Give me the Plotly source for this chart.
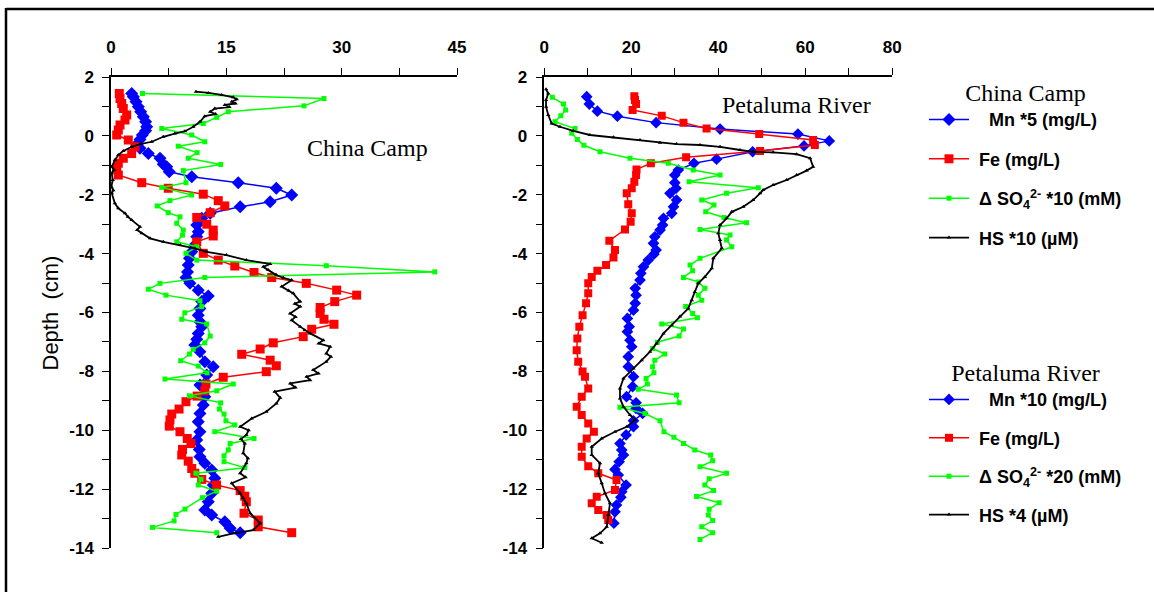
import plotly.graph_objects as go

# ---------------- China Camp ----------------
cc_mn_x = [2.69, 2.9, 3.25, 3.55, 3.86, 4.2, 4.5, 4.64, 4.5, 4.07, 3.77, 3.42, 3.77, 4.85, 6.37, 6.8, 7.24, 7.58,
           10.5, 16.55, 21.5, 23.5, 20.7, 16.8, 12.9, 11.8, 11.15, 11.35, 11.15, 10.9, 10.5, 10.2, 10.05, 9.95,
           9.75, 10.27, 11.35, 12.65, 11.8, 11.57, 11.35, 11.57, 11.8, 11.35, 11.15, 10.9, 11.57, 12.2, 13.3,
           12.45, 11.57, 12.2, 12.0, 11.57, 11.35, 11.57, 11.15, 11.48, 11.57, 12.2, 13.1, 13.5, 13.3, 13.1,
           12.65, 12.2, 13.1, 14.8, 15.5, 16.8]
cc_mn_d = [1.44, 1.33, 1.16, 0.99, 0.82, 0.65, 0.48, 0.31, 0.17, 0.03, -0.12, -0.28, -0.42, -0.6, -0.76, -0.96,
           -1.05, -1.22, -1.39, -1.59, -1.78, -2.01, -2.24, -2.41, -2.63, -2.8, -3.03, -3.26, -3.43, -3.71, -3.94,
           -4.16, -4.39, -4.62, -4.81, -5.01, -5.24, -5.44, -5.63, -5.86, -6.09, -6.31, -6.48, -6.71, -6.91, -7.1,
           -7.33, -7.67, -7.84, -8.12, -8.46, -8.86, -9.14, -9.43, -9.71, -10.05, -10.33, -10.65, -10.9, -11.12,
           -11.35, -11.63, -11.86, -12.14, -12.43, -12.71, -12.88, -13.11, -13.33, -13.48]

cc_fe_x = [1.08, 1.17, 1.39, 1.6, 2.04, 1.82, 1.17, 0.95, 0.74, 2.25, 3.12, 2.69, 1.6, 0.95, 0.74, 0.95, 4.0,
           7.45, 12.0, 13.95, 14.8, 12.9, 11.15, 12.45, 13.3, 13.3, 11.15, 12.0, 13.95, 16.1, 18.6, 20.9, 25.4,
           29.35, 31.95, 29.1, 27.2, 27.2, 27.7, 29.0, 26.1, 25.0, 21.1, 19.4, 17.0, 20.7, 21.5, 20.2, 14.6,
           12.35, 12.2, 11.2, 9.75, 8.85, 7.9, 7.67, 7.58, 8.97, 9.92, 10.4, 9.3, 9.2, 10.05, 10.5, 10.9, 11.8,
           13.73, 16.8, 17.4, 17.6, 17.3, 19.15, 19.15, 23.5]
cc_fe_d = [1.44, 1.27, 1.1, 0.93, 0.71, 0.54, 0.37, 0.2, 0.03, -0.14, -0.37, -0.6, -0.76, -0.93, -1.1, -1.33,
           -1.59, -1.78, -1.98, -2.2, -2.38, -2.61, -2.77, -3.0, -3.2, -3.4, -3.6, -3.99, -4.22, -4.42, -4.64,
           -4.81, -5.01, -5.24, -5.41, -5.63, -5.83, -6.03, -6.23, -6.4, -6.57, -6.82, -7.03, -7.24, -7.42, -7.62,
           -7.81, -8.01, -8.2, -8.43, -8.66, -8.84, -9.03, -9.28, -9.45, -9.65, -9.86, -10.05, -10.28, -10.45,
           -10.65, -10.84, -11.05, -11.3, -11.46, -11.67, -11.86, -12.05, -12.24, -12.43, -12.82, -13.05,
           -13.28, -13.48]

cc_so4_x = [4.1, 27.7, 25.1, 15.25, 13.75, 12.0, 6.6, 10.5, 12.2, 8.75, 11.2, 10.05, 14.26, 9.4, 9.75, 6.6,
            10.5, 7.67, 6.0, 7.45, 8.97, 8.55, 9.4, 9.3, 8.55, 11.15, 9.75, 11.15, 28.0, 42.1, 12.2, 6.37, 4.85,
            7.15, 11.57, 11.8, 9.6, 9.2, 12.45, 12.9, 12.2, 10.7, 10.2, 9.06, 11.35, 12.5, 7.02, 15.9, 13.75,
            10.2, 14.26, 14.1, 14.7, 14.95, 16.1, 13.5, 18.6, 15.5, 15.25, 14.7, 14.7, 17.4, 11.05, 11.7, 11.35,
            13.75, 11.9, 9.62, 8.45, 8.2, 5.4, 13.75]
cc_so4_d = [1.44, 1.27, 1.02, 0.82, 0.63, 0.42, 0.25, 0.03, -0.2, -0.35, -0.57, -0.76, -0.97, -1.18, -1.59,
            -1.75, -2.01, -2.2, -2.38, -2.61, -2.75, -2.97, -3.2, -3.37, -3.6, -3.77, -3.99, -4.22, -4.41, -4.62,
            -4.81, -5.01, -5.21, -5.41, -5.6, -5.8, -6.01, -6.23, -6.39, -6.8, -7.03, -7.25, -7.41, -7.64, -7.82,
            -8.05, -8.26, -8.43, -8.66, -8.83, -9.07, -9.28, -9.45, -9.68, -9.82, -10.05, -10.28, -10.45, -10.67,
            -10.87, -11.07, -11.27, -11.46, -11.67, -11.86, -12.07, -12.29, -12.68, -12.86, -13.08, -13.3, -13.48]

cc_hs_x = [11.05, 12.65, 14.4, 15.9, 16.35, 15.7, 16.2, 14.8, 15.4, 13.5, 12.9, 13.6, 12.2, 11.57, 10.7, 9.62,
           8.3, 6.8, 5.3, 3.77, 2.69, 1.6, 0.95, 0.52, 0.09, 0.4, 0.1, 0.22, 0.05, 0.3, 0.1, 0.5, 0.95, 1.82,
           2.2, 2.69, 3.77, 3.4, 3.99, 5.07, 6.8, 9.0, 10.9, 12.45, 15.0, 17.6, 20.7, 19.8, 20.45, 21.5, 22.4,
           23.5, 22.2, 23.1, 23.7, 24.6, 23.9, 24.6, 23.3, 24.0, 23.5, 24.6, 25.2, 25.9, 27.6, 27.0, 28.5, 28.0,
           28.6, 28.0, 26.3, 27.0, 25.45, 25.9, 23.3, 24.0, 21.3, 22.0, 21.5, 20.2, 18.3, 16.8, 17.9, 17.6, 16.9,
           17.4, 17.2, 17.8, 17.6, 16.8, 17.5, 15.7, 16.8, 17.2, 17.6, 18.1, 19.4, 18.5, 15.9, 13.95]
cc_hs_d = [1.5, 1.46, 1.39, 1.31, 1.24, 1.16, 1.1, 1.05, 0.98, 0.93, 0.82, 0.74, 0.67, 0.48, 0.31, 0.16, 0.08,
           -0.03, -0.2, -0.28, -0.37, -0.51, -0.65, -0.82, -1.05, -1.16, -1.27, -1.5, -1.73, -1.85, -1.95, -2.29,
           -2.46, -2.63, -2.75, -2.86, -3.09, -3.2, -3.31, -3.48, -3.6, -3.71, -3.82, -3.94, -4.05, -4.22, -4.35,
           -4.45, -4.56, -4.73, -4.82, -4.9, -5.12, -5.25, -5.35, -5.63, -5.7, -5.8, -6.03, -6.15, -6.26, -6.48,
           -6.6, -6.71, -6.94, -7.05, -7.16, -7.39, -7.5, -7.67, -7.95, -8.07, -8.18, -8.3, -8.41, -8.55, -8.69,
           -8.9, -9.09, -9.37, -9.6, -9.88, -10.0, -10.16, -10.3, -10.45, -10.78, -10.95, -11.12, -11.46, -11.6,
           -11.8, -12.14, -12.3, -12.48, -12.82, -13.16, -13.39, -13.5, -13.62]

# ---------------- Petaluma River ----------------
pr_mn_x = [9.75, 10.35, 12.2, 16.8, 25.7, 40.4, 58.3, 65.5, 59.7, 47.9, 39.6, 34.4, 30.8, 30.0, 30.0, 30.3, 28.9,
           30.4, 29.7, 29.3, 27.4, 27.2, 26.6, 25.4, 25.1, 25.7, 25.2, 23.9, 22.8, 22.2, 22.0, 20.9, 21.1, 20.9,
           20.5, 19.1, 19.5, 19.1, 19.7, 20.1, 19.3, 19.3, 20.5, 20.3, 18.9, 21.1, 21.1, 22.6, 20.5, 20.5, 18.8,
           17.4, 17.8, 18.2, 17.2, 16.25, 17.0, 18.8, 17.8, 17.6, 16.6, 16.25, 16.0]
pr_mn_d = [1.33, 1.08, 0.84, 0.67, 0.45, 0.23, 0.06, -0.17, -0.34, -0.54, -0.79, -0.93, -1.16, -1.33, -1.59,
           -1.78, -1.95, -2.18, -2.41, -2.63, -2.8, -3.03, -3.2, -3.43, -3.65, -3.88, -4.02, -4.22, -4.45, -4.67,
           -4.9, -5.18, -5.41, -5.69, -5.92, -6.2, -6.48, -6.65, -6.94, -7.16, -7.5, -7.84, -8.18, -8.52, -8.86,
           -9.07, -9.26, -9.43, -9.68, -9.88, -10.16, -10.45, -10.67, -10.84, -11.07, -11.33, -11.52, -11.86,
           -12.09, -12.28, -12.54, -12.77, -13.16]

pr_fe_x = [20.7, 20.85, 21.1, 20.3, 27.0, 32.0, 37.3, 49.4, 61.8, 62.2, 49.6, 32.6, 24.5, 21.2, 21.1, 20.7, 20.1,
           18.95, 19.3, 20.1, 19.85, 18.55, 14.95, 16.25, 15.9, 14.2, 12.2, 10.9, 10.1, 10.1, 9.6, 8.8, 8.05, 7.6,
           7.45, 7.8, 8.8, 9.35, 10.1, 8.6, 7.45, 8.6, 10.1, 11.4, 9.75, 8.6, 8.6, 10.1, 12.4, 16.6, 16.25, 12.05,
           10.9, 12.4, 14.35, 14.7]
pr_fe_d = [1.35, 1.22, 1.08, 0.88, 0.68, 0.45, 0.25, 0.06, -0.14, -0.31, -0.51, -0.73, -0.93, -1.14, -1.33, -1.56,
           -1.78, -1.95, -2.32, -2.63, -2.92, -3.18, -3.56, -3.88, -4.13, -4.39, -4.58, -4.79, -5.01, -5.35, -5.69,
           -6.09, -6.48, -6.88, -7.28, -7.67, -8.0, -8.18, -8.58, -8.86, -9.2, -9.48, -9.77, -10.05, -10.28,
           -10.56, -10.9, -11.22, -11.46, -11.69, -12.03, -12.26, -12.48, -12.71, -12.88, -13.05]

pr_so4_x = [1.85, 4.4, 4.9, 3.8, 2.46, 7.05, 6.3, 7.6, 9.1, 12.8, 19.7, 28.5, 34.25, 40.4, 33.3, 49.2, 41.9, 36.2,
            39.0, 37.1, 41.3, 46.5, 35.8, 42.7, 41.9, 43.1, 35.8, 33.5, 34.1, 32.0, 35.4, 36.9, 35.4, 36.2, 32.5,
            34.1, 35.2, 27.0, 32.0, 31.0, 26.0, 24.9, 27.7, 25.4, 24.9, 25.2, 23.4, 23.7, 21.6, 30.4, 31.0, 17.4,
            23.15, 26.6, 27.5, 29.8, 32.0, 34.6, 38.25, 38.7, 35.8, 41.9, 37.9, 36.9, 38.9, 35.0, 40.2, 37.9, 37.7,
            38.7, 36.2, 38.7, 35.8]
pr_so4_d = [1.31, 1.08, 0.88, 0.68, 0.48, 0.25, 0.09, -0.12, -0.32, -0.54, -0.76, -0.93, -1.16, -1.33, -1.56,
            -1.76, -1.95, -2.18, -2.35, -2.58, -2.77, -2.95, -3.18, -3.37, -3.54, -3.77, -4.16, -4.39, -4.58,
            -4.81, -4.96, -5.18, -5.41, -5.58, -5.8, -6.03, -6.18, -6.39, -6.56, -6.8, -7.01, -7.22, -7.41, -7.62,
            -7.84, -8.05, -8.24, -8.43, -8.61, -8.8, -9.07, -9.22, -9.43, -9.68, -10.05, -10.24, -10.45, -10.67,
            -10.84, -11.04, -11.24, -11.46, -11.65, -11.86, -12.05, -12.25, -12.46, -12.68, -12.88, -13.07,
            -13.28, -13.48, -13.71]

pr_hs_x = [0.4, 0.9, 0.4, 0.4, 0.9, 1.7, 3.6, 6.67, 10.5, 15.9, 22.0, 26.6, 30.4, 35.8, 40.4, 45.0, 48.0, 52.6,
           58.0, 61.1, 61.8, 60.3, 58.0, 55.7, 52.6, 50.3, 49.6, 48.0, 45.75, 43.1, 41.9, 40.4, 40.0, 40.4, 40.8,
           38.85, 38.5, 36.9, 35.4, 34.6, 33.9, 33.1, 31.2, 29.3, 27.4, 25.8, 24.3, 22.4, 20.5, 18.2, 17.4, 17.4,
           18.2, 19.7, 20.85, 18.95, 16.25, 13.2, 10.9, 10.9, 12.8, 12.4, 13.2, 13.95, 15.1, 14.7, 14.35, 12.8,
           10.9, 13.2]
pr_hs_d = [1.58, 1.44, 1.22, 0.99, 0.71, 0.42, 0.31, 0.17, 0.03, -0.05, -0.14, -0.23, -0.28, -0.31, -0.37, -0.48,
           -0.54, -0.56, -0.62, -0.76, -1.05, -1.18, -1.33, -1.5, -1.67, -1.84, -1.95, -2.18, -2.41, -2.58, -2.8,
           -3.03, -3.31, -3.54, -3.82, -4.16, -4.5, -4.79, -5.01, -5.3, -5.58, -5.86, -6.14, -6.43, -6.71, -7.05,
           -7.33, -7.62, -7.9, -8.24, -8.58, -8.92, -9.2, -9.48, -9.65, -9.88, -10.05, -10.28, -10.56, -10.84,
           -11.12, -11.46, -11.8, -12.14, -12.48, -12.88, -13.28, -13.5, -13.67, -13.82]

# ---------------- tick labels ----------------
cc_xticks = [0, 15, 30, 45]
pr_xticks = [0, 20, 40, 60, 80]
y_ticks = [2, 0, -2, -4, -6, -8, -10, -12, -14]

BLUE, RED, GREEN, BLACK = "#0000FF", "#FF0000", "#00FF00", "#000000"
SANS = "Liberation Sans, Arial, sans-serif"
SERIF = "Liberation Serif, Times New Roman, serif"

fig = go.Figure()

def add(xs, ys, color, symbol, size, name, xa, ya, leg, group, lw=1.5):
    fig.add_trace(go.Scatter(
        x=xs, y=ys, xaxis=xa, yaxis=ya, mode="lines+markers", name=name,
        line=dict(color=color, width=lw), marker=dict(color=color, symbol=symbol, size=size),
        legend=leg, legendgroup=group))

add(cc_mn_x, cc_mn_d, BLUE, "diamond", 10, "&nbsp;&nbsp;&nbsp;Mn *5 (mg/L)", "x", "y", "legend", "c1")
add(cc_fe_x, cc_fe_d, RED, "square", 9, "&nbsp;Fe (mg/L)", "x", "y", "legend", "c2")
add(cc_so4_x, cc_so4_d, GREEN, "square", 5, "&nbsp;Δ SO<sub>4</sub><sup>2-</sup> *10 (mM)", "x", "y", "legend", "c3")
add(cc_hs_x, cc_hs_d, BLACK, "triangle-up", 4, "&nbsp;HS *10 (µM)", "x", "y", "legend", "c4", lw=1.8)

add(pr_mn_x, pr_mn_d, BLUE, "diamond", 9, "&nbsp;&nbsp;&nbsp;Mn *10 (mg/L)", "x2", "y2", "legend2", "p1")
add(pr_fe_x, pr_fe_d, RED, "square", 8, "&nbsp;Fe (mg/L)", "x2", "y2", "legend2", "p2")
add(pr_so4_x, pr_so4_d, GREEN, "square", 5, "&nbsp;Δ SO<sub>4</sub><sup>2-</sup> *20 (mM)", "x2", "y2", "legend2", "p3")
add(pr_hs_x, pr_hs_d, BLACK, "triangle-up", 4, "&nbsp;HS *4 (µM)", "x2", "y2", "legend2", "p4", lw=1.8)

W, H = 1154, 592
ytop, ybot = 1 - 77 / H, 1 - 548 / H

tickfont = dict(family=SANS, size=17, color="black", weight="bold")
xcommon = dict(side="top", showline=True, linecolor="black", linewidth=1.5, ticks="outside", ticklen=7,
               tickwidth=1.2, tickcolor="black", showgrid=False, zeroline=False, tickfont=tickfont,
               automargin=False, fixedrange=True, ticklabelstandoff=8)
ycommon = dict(range=[-14, 2], tickvals=y_ticks, ticktext=[str(v) for v in y_ticks], showline=True,
               linecolor="black", linewidth=1.5, ticks="outside", ticklen=7, tickwidth=1.2, tickcolor="black",
               showgrid=False, zeroline=False, tickfont=tickfont, automargin=False, ticklabelstandoff=5,
               minor=dict(dtick=1, tick0=0, ticks="outside", ticklen=7, tickwidth=1.2, tickcolor="black"))

legfont = dict(family=SANS, size=18, color="black", weight="bold")
titlefont = dict(family=SERIF, size=24, color="black", weight="normal")

fig.update_layout(
    width=W, height=H, margin=dict(l=0, r=0, t=0, b=0),
    paper_bgcolor="white", plot_bgcolor="white",
    xaxis=dict(domain=[111 / W, 457 / W], range=[0, 45], tickvals=cc_xticks,
               minor=dict(dtick=7.5, tick0=0, ticks="outside", ticklen=7, tickwidth=1.2, tickcolor="black"),
               anchor="y", **xcommon),
    xaxis2=dict(domain=[544.3 / W, 892.3 / W], range=[0, 80], tickvals=pr_xticks,
                minor=dict(dtick=10, tick0=0, ticks="outside", ticklen=7, tickwidth=1.2, tickcolor="black"),
                anchor="y2", **xcommon),
    yaxis=dict(domain=[ybot, ytop], anchor="x", **ycommon),
    yaxis2=dict(domain=[ybot, ytop], anchor="x2", **ycommon),
    legend=dict(x=924 / W, y=1 - 70 / H, xanchor="left", yanchor="top", bgcolor="rgba(0,0,0,0)",
                font=legfont, title=dict(text="China Camp", side="top center", font=titlefont),
                tracegroupgap=13, traceorder="grouped", itemwidth=40),
    legend2=dict(x=924 / W, y=1 - 350 / H, xanchor="left", yanchor="top", bgcolor="rgba(0,0,0,0)",
                 font=legfont, title=dict(text="Petaluma River", side="top center", font=titlefont),
                 tracegroupgap=12, traceorder="grouped", itemwidth=40),
    showlegend=True,
    annotations=[
        dict(text="China Camp", x=33.4, y=-0.41, xref="x", yref="y", showarrow=False,
             font=dict(family=SERIF, size=24, color="black")),
        dict(text="Petaluma River", x=57.9, y=1.05, xref="x2", yref="y2", showarrow=False,
             font=dict(family=SERIF, size=24, color="black")),
        dict(text="Depth  (cm)", x=35 / W, y=1 - 313 / H, xref="paper", yref="paper", showarrow=False,
             textangle=-90, font=dict(family=SANS, size=22, color="black")),
    ],
    shapes=[
        dict(type="line", xref="paper", yref="paper", x0=6 / W, x1=1.0, y0=1 - 9 / H, y1=1 - 9 / H,
             line=dict(color="black", width=2.5)),
        dict(type="line", xref="paper", yref="paper", x0=6 / W, x1=6 / W, y0=0, y1=1 - 8 / H,
             line=dict(color="black", width=2.5)),
    ],
)

fig.write_html("out.html")
